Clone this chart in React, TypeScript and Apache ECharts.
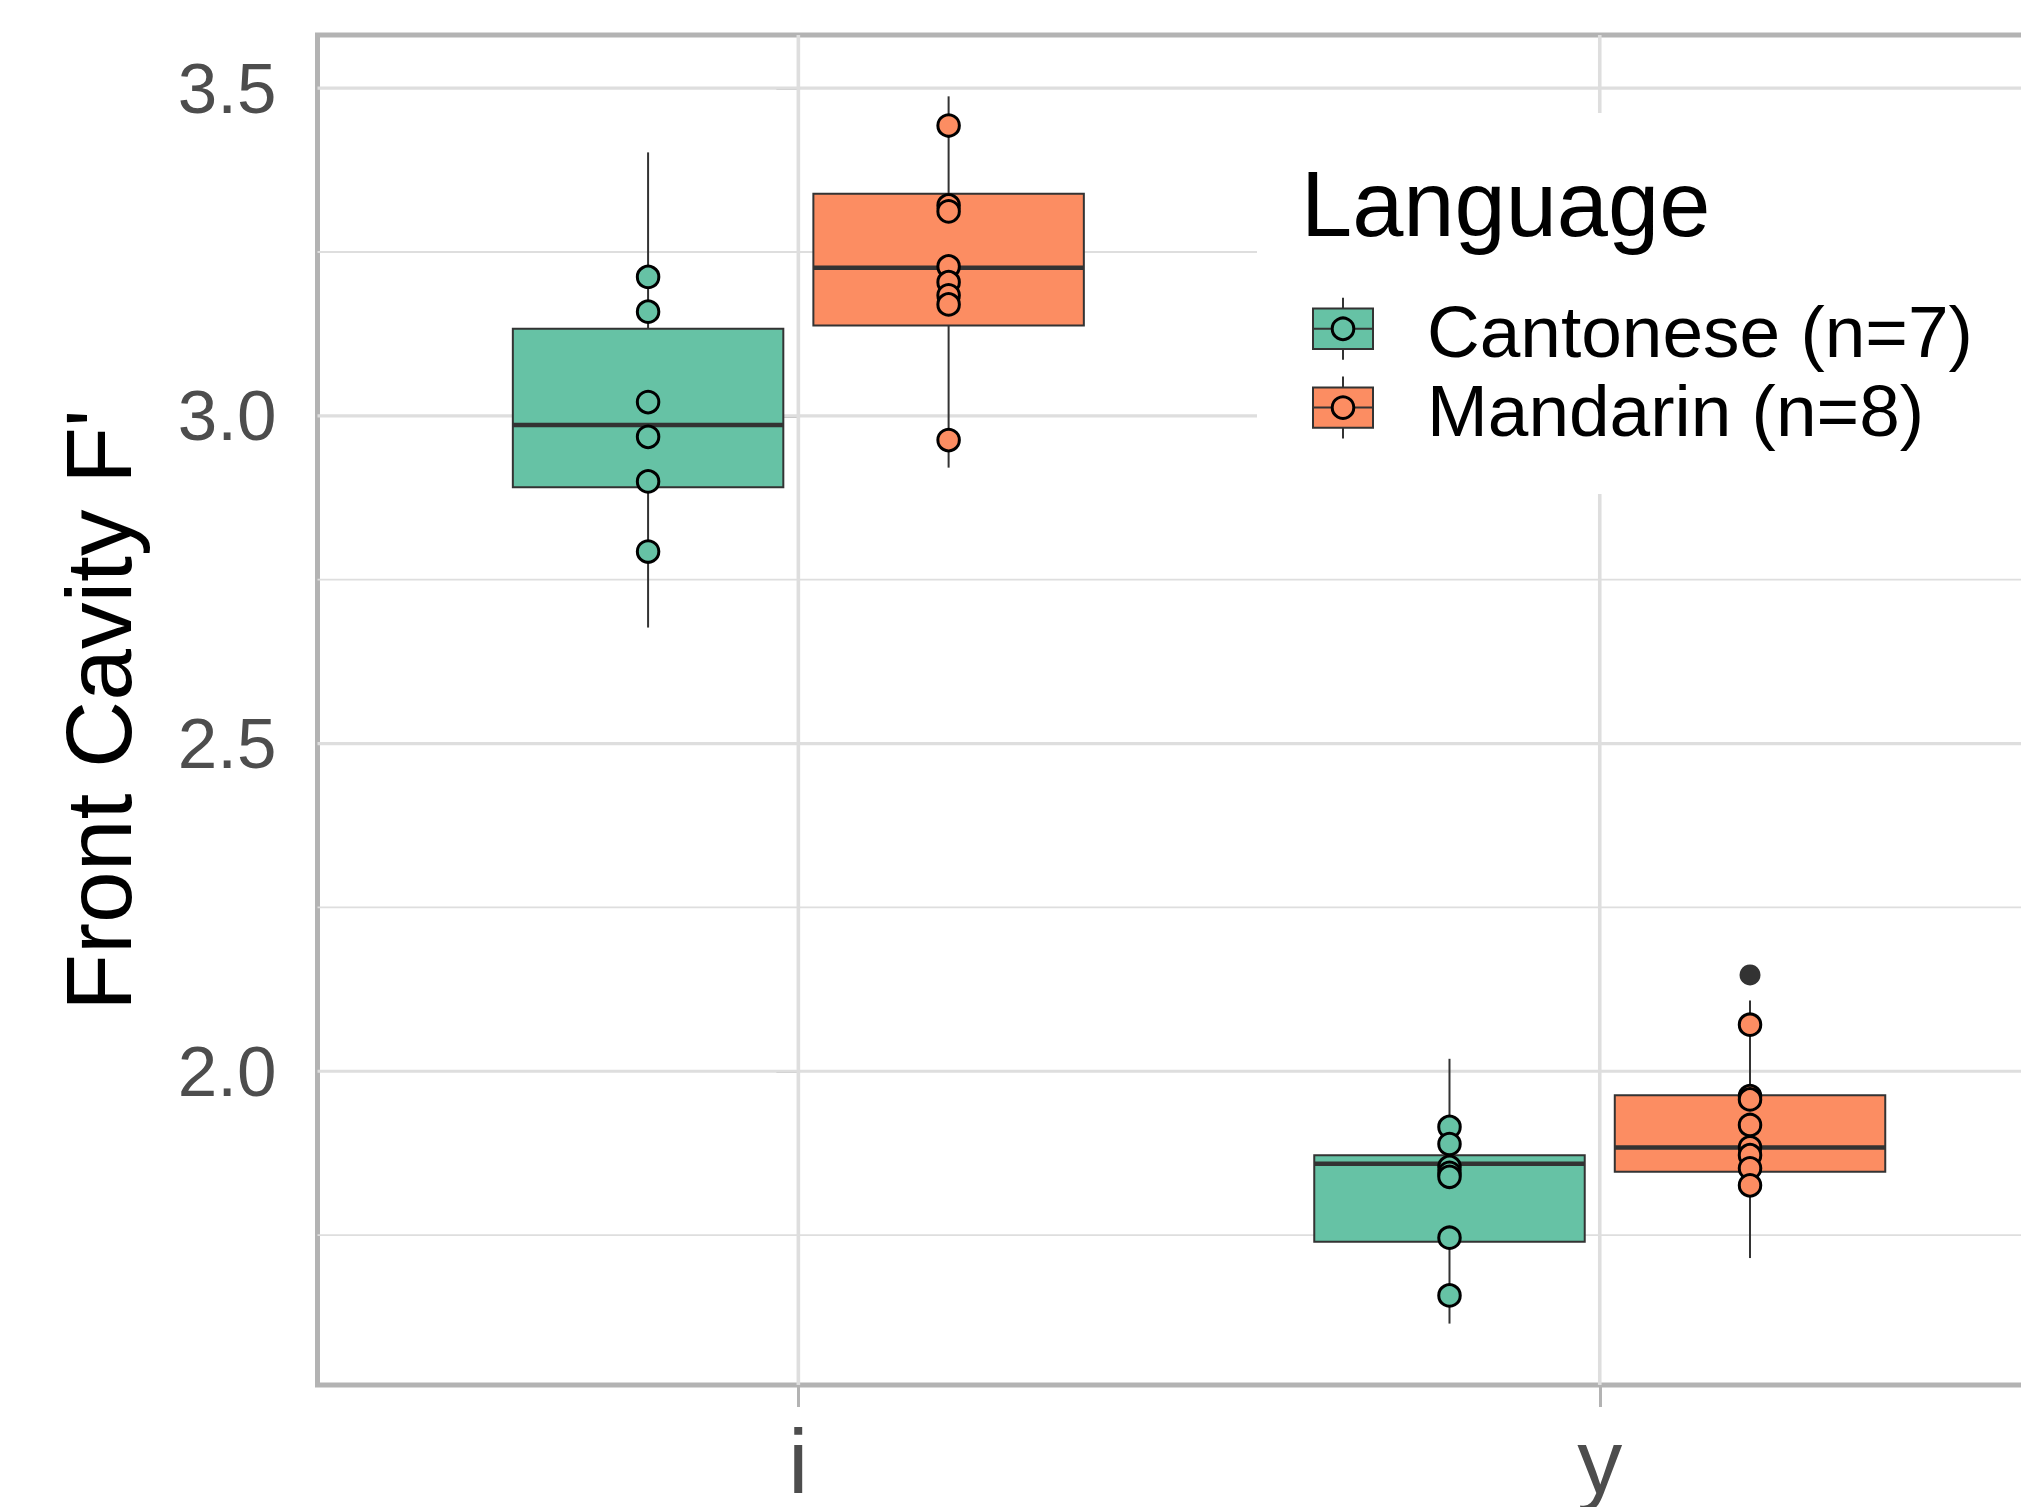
import React, { useEffect, useRef } from 'react';
import * as echarts from 'echarts';

const categories = ['i', 'y'];
const languages = ['Cantonese (n=7)', 'Mandarin (n=8)'];
const colors = ['#66C2A5', '#FC8D62'];
const legendTitle = 'Language';
const yAxisTitle = "Front Cavity F'";

// boxplot stats per vowel (i, y): [lower whisker, Q1, median, Q3, upper whisker]
const cantoneseBoxStats = [
  [2.677, 2.891, 2.986, 3.133, 3.402],
  [1.615, 1.74, 1.859, 1.872, 2.019],
];
const mandarinBoxStats = [
  [2.921, 3.138, 3.226, 3.339, 3.4875],
  [1.715, 1.8465, 1.8835, 1.9635, 2.108],
];
// speaker points
const cantonesePointsI = [3.212, 3.159, 3.021, 2.968, 2.9, 2.793];
const cantonesePointsY = [1.915, 1.889, 1.854, 1.845, 1.839, 1.746, 1.658];
const mandarinPointsI = [3.443, 3.321, 3.312, 3.228, 3.204, 3.184, 3.17, 2.963];
const mandarinPointsY = [2.071, 1.962, 1.957, 1.918, 1.884, 1.872, 1.852, 1.826];
// boxplot outliers (Mandarin, vowel y)
const mandarinOutliersY = [2.147];

const yTicks = [2.0, 2.5, 3.0, 3.5];
const yMinorTicks = [1.75, 2.25, 2.75, 3.25];
const xTicks = [0, 1];

const Y_MIN = 1.5213;
const Y_MAX = 3.5811;
const X_MIN = -0.6;
const X_MAX = 1.6;
const DODGE = [-0.1875, 0.1875];
const BOX_WIDTH = 0.3375;

const VIEW_W = 2021;
const VIEW_H = 1507;
const CHART_W = 2100; // plot panel extends past the right edge of the picture

const FONT = '"Liberation Sans", Arial, Helvetica, sans-serif';
const GRID_COLOR = '#dedede';
const BORDER_COLOR = '#b3b3b3';
const LINE_COLOR = '#333333';

function boxSeries(stats: number[][], langIdx: number) {
  const color = colors[langIdx];
  return {
    type: 'custom',
    name: languages[langIdx],
    z: 2,
    silent: true,
    clip: false,
    encode: { x: 0, y: [1, 2, 3, 4, 5] },
    data: stats.map((s, i) => [i + DODGE[langIdx], ...s]),
    renderItem: (params: any, api: any) => {
      const x = api.value(0);
      const lo = api.coord([x, api.value(1)]);
      const q1 = api.coord([x, api.value(2)]);
      const med = api.coord([x, api.value(3)]);
      const q3 = api.coord([x, api.value(4)]);
      const hi = api.coord([x, api.value(5)]);
      const hw = api.size([BOX_WIDTH, 0])[0] / 2;
      const lineStyle = { stroke: LINE_COLOR, lineWidth: 2 };
      return {
        type: 'group',
        children: [
          { type: 'line', shape: { x1: lo[0], y1: lo[1], x2: q1[0], y2: q1[1] }, style: lineStyle },
          { type: 'line', shape: { x1: q3[0], y1: q3[1], x2: hi[0], y2: hi[1] }, style: lineStyle },
          {
            type: 'rect',
            shape: { x: q3[0] - hw, y: q3[1], width: hw * 2, height: q1[1] - q3[1] },
            style: { fill: color, stroke: LINE_COLOR, lineWidth: 2 },
          },
          {
            type: 'line',
            shape: { x1: med[0] - hw, y1: med[1], x2: med[0] + hw, y2: med[1] },
            style: { stroke: LINE_COLOR, lineWidth: 4.5 },
          },
        ],
      };
    },
  };
}

function pointSeries(perVowel: number[][], langIdx: number) {
  const data: number[][] = [];
  perVowel.forEach((vals, i) => vals.forEach((v) => data.push([i + DODGE[langIdx], v])));
  return {
    type: 'scatter',
    name: languages[langIdx] + ' points',
    z: 3,
    silent: true,
    symbol: 'circle',
    symbolSize: 21.5,
    itemStyle: { color: colors[langIdx], borderColor: '#000000', borderWidth: 3, opacity: 1 },
    emphasis: { disabled: true },
    data,
  };
}

function buildLegend() {
  const children: any[] = [];
  const bgX = 1257, bgY = 113, bgW = 764, bgH = 381;
  children.push({ type: 'rect', z: 50, shape: { x: bgX, y: bgY, width: bgW, height: bgH }, style: { fill: '#ffffff' } });
  children.push({
    type: 'text', z: 51, x: 1301, y: 203.6,
    style: { text: legendTitle, fill: '#000000', fontSize: 92, fontFamily: FONT, align: 'left', verticalAlign: 'middle', textAlign: 'left', textVerticalAlign: 'middle' },
  });
  const keyCx = 1343;
  const keyW = 60;
  const centers = [328.8, 407.6];
  languages.forEach((lab, i) => {
    const cy = centers[i];
    children.push({ type: 'line', z: 51, shape: { x1: keyCx, y1: cy - 31, x2: keyCx, y2: cy + 31 }, style: { stroke: LINE_COLOR, lineWidth: 2 } });
    children.push({ type: 'rect', z: 52, shape: { x: keyCx - keyW / 2, y: cy - 20.2, width: keyW, height: 40.4 }, style: { fill: colors[i], stroke: LINE_COLOR, lineWidth: 2 } });
    children.push({ type: 'line', z: 53, shape: { x1: keyCx - keyW / 2, y1: cy, x2: keyCx + keyW / 2, y2: cy }, style: { stroke: LINE_COLOR, lineWidth: 2 } });
    children.push({ type: 'circle', z: 54, shape: { cx: keyCx, cy: cy, r: 10.8 }, style: { fill: colors[i], stroke: '#000000', lineWidth: 3 } });
    children.push({
      type: 'text', z: 54, x: 1427, y: cy + 2.5,
      style: { text: lab, fill: '#000000', fontSize: 73, fontFamily: FONT, align: 'left', verticalAlign: 'middle', textAlign: 'left', textVerticalAlign: 'middle' },
    });
  });
  return children;
}

export default function App() {
  const ref = useRef<HTMLDivElement>(null);
  useEffect(() => {
    if (!ref.current) return;
    const chart = echarts.init(ref.current, undefined, { renderer: 'svg' });
    const hGrid = [...yTicks, ...yMinorTicks];
    const option: any = {
      animation: false,
      backgroundColor: '#ffffff',
      textStyle: { fontFamily: FONT },
      grid: {
        left: 317.5,
        right: CHART_W - 2080.6,
        top: 35,
        bottom: 117,
        show: true,
        borderColor: BORDER_COLOR,
        borderWidth: 5,
        backgroundColor: 'transparent',
        containLabel: false,
      },
      xAxis: {
        type: 'value',
        min: X_MIN,
        max: X_MAX,
        axisLine: { show: false },
        splitLine: { show: false },
        axisTick: { show: true, customValues: xTicks, length: 22, lineStyle: { color: BORDER_COLOR, width: 3 } },
        axisLabel: {
          show: true,
          customValues: xTicks,
          margin: 32,
          fontSize: 90,
          color: '#4d4d4d',
          fontFamily: FONT,
          formatter: (v: number) => categories[Math.round(v)] ?? '',
        },
      },
      yAxis: {
        type: 'value',
        min: Y_MIN,
        max: Y_MAX,
        name: yAxisTitle,
        nameLocation: 'middle',
        nameGap: 172,
        nameTextStyle: { fontSize: 93, color: '#000000', fontFamily: FONT },
        axisLine: { show: false },
        splitLine: { show: false },
        axisTick: { show: true, customValues: yTicks, length: 22, lineStyle: { color: BORDER_COLOR, width: 3 } },
        axisLabel: {
          show: true,
          customValues: yTicks,
          margin: 41,
          fontSize: 71,
          color: '#4d4d4d',
          fontFamily: FONT,
          formatter: (v: number) => v.toFixed(1),
        },
      },
      series: [
        {
          type: 'custom',
          name: 'hgrid',
          z: 1,
          silent: true,
          clip: false,
          data: hGrid.map((v) => [0, v]),
          renderItem: (params: any, api: any) => {
            const cs = params.coordSys;
            const y = api.coord([0, api.value(1)])[1];
            const major = params.dataIndex < yTicks.length;
            return {
              type: 'line',
              shape: { x1: cs.x, y1: y, x2: cs.x + cs.width, y2: y },
              style: { stroke: GRID_COLOR, lineWidth: major ? 3.2 : 1.8 },
            };
          },
        },
        {
          type: 'custom',
          name: 'vgrid',
          z: 1,
          silent: true,
          clip: false,
          data: xTicks.map((v) => [v, 3]),
          renderItem: (params: any, api: any) => {
            const cs = params.coordSys;
            const x = api.coord([api.value(0), 3])[0];
            return {
              type: 'line',
              shape: { x1: x, y1: cs.y, x2: x, y2: cs.y + cs.height },
              style: { stroke: GRID_COLOR, lineWidth: 3.6 },
            };
          },
        },
        boxSeries(cantoneseBoxStats, 0),
        boxSeries(mandarinBoxStats, 1),
        pointSeries([cantonesePointsI, cantonesePointsY], 0),
        pointSeries([mandarinPointsI, mandarinPointsY], 1),
        {
          type: 'scatter',
          name: 'outliers',
          z: 3,
          silent: true,
          symbol: 'circle',
          symbolSize: 21,
          itemStyle: { color: LINE_COLOR, opacity: 1 },
          emphasis: { disabled: true },
          data: mandarinOutliersY.map((v) => [1 + DODGE[1], v]),
        },
      ],
      graphic: buildLegend(),
    };
    chart.setOption(option);
    return () => chart.dispose();
  }, []);
  return (
    <div
      style={{ position: 'absolute', left: 0, top: 0, width: VIEW_W, height: VIEW_H, overflow: 'hidden', background: '#ffffff' }}
    >
      <div ref={ref} style={{ width: CHART_W, height: VIEW_H }} />
    </div>
  );
}
